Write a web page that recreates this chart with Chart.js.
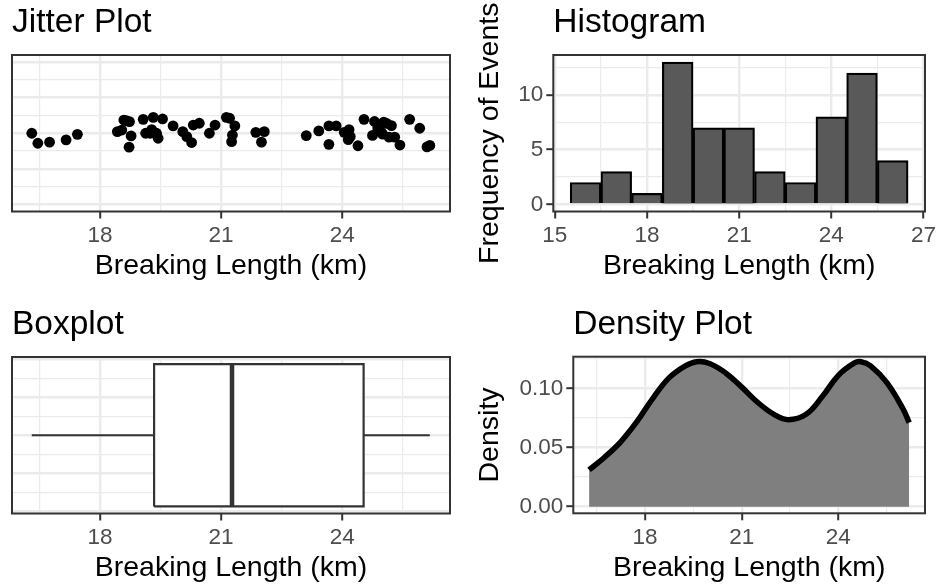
<!DOCTYPE html>
<html>
<head>
<meta charset="utf-8">
<script src="https://cdn.jsdelivr.net/npm/chart.js@4.4.1/dist/chart.umd.min.js"></script>
<style>
  html, body { margin: 0; padding: 0; background: #fff; overflow: hidden; }
  #page { position: relative; width: 937px; height: 588px; overflow: hidden; }
  .cell { position: absolute; width: 469px; height: 294px; }
  .cell canvas { display: block; }
</style>
</head>
<body>
<div id="page">
  <div class="cell" style="left:0;top:0"><canvas id="jitterChart" width="469" height="294"></canvas></div>
  <div class="cell" style="left:468px;top:0"><canvas id="histChart" width="469" height="294"></canvas></div>
  <div class="cell" style="left:0;top:302px"><canvas id="boxChart" width="469" height="294"></canvas></div>
  <div class="cell" style="left:468px;top:302px"><canvas id="densityChart" width="469" height="294"></canvas></div>
</div>
<script>
// ---- data ----
const jitterX = [16.31, 16.46, 16.75, 17.16, 17.44, 18.43, 18.54, 18.59, 18.73, 18.77, 18.72,
  19.07, 19.32, 19.55, 19.13, 19.24, 19.40, 19.44, 19.81, 20.05, 20.15, 20.27, 20.31, 20.46,
  20.71, 20.85, 21.13, 21.21, 21.34, 21.28, 21.26, 21.86, 22.07, 22.00, 23.11, 23.42, 23.67,
  23.85, 23.67, 24.17, 24.20, 24.15, 24.39, 24.54, 24.80, 24.75, 25.03, 25.22, 24.97, 25.16,
  25.30, 25.43, 25.67, 25.92, 26.10, 26.17, 18.65, 19.28, 24.88, 25.10, 25.00, 24.05];
const jitterY = [0.000, -0.056, -0.050, -0.037, -0.006, 0.009, 0.018, 0.074, 0.065, -0.015, -0.078,
  0.078, 0.089, 0.080, 0.000, 0.000, 0.000, -0.028, 0.041, 0.009, -0.019, -0.052, 0.046, 0.056,
  0.000, 0.046, 0.089, 0.084, 0.041, -0.010, -0.047, 0.005, 0.009, -0.050, -0.013, 0.013, 0.041,
  0.041, -0.062, 0.020, -0.019, -0.036, -0.070, 0.078, 0.066, -0.012, 0.062, 0.043, 0.005, -0.022,
  -0.022, -0.066, 0.078, 0.028, -0.076, -0.068, 0.070, 0.020, 0.030, 0.055, -0.005, 0.005];

const histBins = [16, 17, 18, 19, 20, 21, 22, 23, 24, 25, 26];
const histCounts = [2, 3, 1, 13, 7, 7, 3, 2, 8, 12, 4];

// boxplot: min, q1, median, q3, max ; box half-height 0.375
const boxStats = { min: 16.31, q1: 19.34, median: 21.27, q3: 24.53, max: 26.17 };
const boxHalf = 0.375;

const densityX = [16.26, 16.75, 17.25, 17.75, 18.25, 18.75, 19.25, 19.6, 20.0, 20.5, 21.0, 21.5,
  22.0, 22.45, 23.0, 23.5, 24.0, 24.5, 24.7, 25.0, 25.5, 26.0, 26.2];
const densityY = [0.031, 0.042, 0.055, 0.072, 0.092, 0.109, 0.119, 0.1225, 0.121, 0.113, 0.101, 0.088,
  0.078, 0.0735, 0.078, 0.093, 0.111, 0.1215, 0.1225, 0.119, 0.105, 0.083, 0.071];

const kmMajor = [15, 18, 21, 24, 27];
const kmMinor = [16.5, 19.5, 22.5, 25.5];
const histYMajor = [0, 5, 10];
const histYMinor = [2.5, 7.5, 12.5];
const densYMajor = [0, 0.05, 0.10];
const densYMinor = [0.025, 0.075, 0.125];
const flatMajor = [-0.4, -0.2, 0, 0.2, 0.4];
const flatMinor = [-0.3, -0.1, 0.1, 0.3];

// ---- styling ----
const FONT = '"Liberation Sans", Arial, Helvetica, sans-serif';
const GRID = '#EBEBEB';
const INK = '#333333';
const XTITLE = 'Breaking Length (km)';

// frame + panel title, ggplot-ish
const panelPlugin = {
    id: 'panel',
    afterDatasetsDraw(chart, args, opts) {
        const a = chart.chartArea;
        const ctx = chart.ctx;
        ctx.save();
        ctx.strokeStyle = INK;
        ctx.lineWidth = 2;
        ctx.strokeRect(a.left, a.top, a.right - a.left, a.bottom - a.top);
        ctx.restore();
    },
    afterDraw(chart, args, opts) {
        const ctx = chart.ctx;
        ctx.save();
        ctx.font = '33.5px ' + FONT;
        ctx.fillStyle = '#000';
        ctx.textBaseline = 'alphabetic';
        ctx.textAlign = 'left';
        ctx.fillText(opts.title, chart.chartArea.left, 32);
        ctx.restore();
    }
};

function near(v, list) {
    return list.some(m => Math.abs(m - v) < 1e-6);
}

function axis(opts) {
    const major = opts.major, minor = opts.minor;
    const all = major.concat(minor).sort((a, b) => a - b);
    return {
        type: 'linear',
        min: opts.min,
        max: opts.max,
        offset: false,
        afterBuildTicks: s => { s.ticks = all.filter(v => v >= opts.min && v <= opts.max).map(v => ({ value: v })); },
        afterFit: s => {
            if (opts.size !== undefined) {
                if (s.isHorizontal()) s.height = opts.size; else s.width = opts.size;
            }
            s.paddingLeft = 0; s.paddingRight = 0; s.paddingTop = 0; s.paddingBottom = 0;
        },
        grid: {
            offset: false,
            color: GRID,
            lineWidth: c => (c.tick && near(c.tick.value, major)) ? 2.4 : 1.2,
            drawTicks: opts.labels,
            tickLength: 7,
            tickColor: c => (c.tick && near(c.tick.value, major)) ? INK : 'rgba(0,0,0,0)',
            tickWidth: 2
        },
        border: { display: false },
        ticks: {
            display: opts.labels,
            autoSkip: false,
            maxRotation: 0,
            padding: opts.tickPad !== undefined ? opts.tickPad : 3,
            color: '#4D4D4D',
            font: { family: FONT, size: 22.5 },
            callback: v => near(v, major) ? (opts.fmt ? opts.fmt(v) : String(v)) : ''
        },
        title: {
            display: !!opts.title,
            text: opts.title,
            color: '#000',
            font: { family: FONT, size: 28.5 },
            padding: opts.titlePad || 0
        }
    };
}

function baseOptions(title, pad) {
    return {
        responsive: false,
        animation: false,
        events: [],
        layout: { padding: pad },
        plugins: {
            legend: { display: false },
            tooltip: { enabled: false },
            filler: { drawTime: 'beforeDatasetsDraw' },
            panel: { title: title }
        }
    };
}

Chart.register(panelPlugin);

// ---- Jitter Plot ----
const jitterOpts = baseOptions('Jitter Plot', { left: 12, top: 55, right: 19, bottom: 0 });
jitterOpts.scales = {
    x: axis({ min: 15.82, max: 26.67, major: [18, 21, 24], minor: kmMinor, labels: true, size: 82.5, tickPad: 4,
              title: XTITLE, titlePad: { top: 0, bottom: 10.5 } }),
    y: axis({ min: -0.4385, max: 0.4385, major: flatMajor, minor: flatMinor, labels: false, size: 0 })
};
new Chart(document.getElementById('jitterChart'), {
    type: 'scatter',
    data: {
        datasets: [{
            data: jitterX.map((x, i) => ({ x: x, y: jitterY[i] })),
            backgroundColor: '#000',
            borderWidth: 0,
            pointRadius: 5.4
        }]
    },
    options: jitterOpts
});

// ---- Histogram ----
const histOpts = baseOptions('Histogram', { left: 0, top: 55, right: 12, bottom: 0 });
histOpts.scales = {
    x: axis({ min: 14.95, max: 27.05, major: kmMajor, minor: kmMinor, labels: true, size: 82.5, tickPad: 4,
              title: XTITLE, titlePad: { top: 0, bottom: 10.5 } }),
    y: axis({ min: -0.65, max: 13.65, major: histYMajor, minor: histYMinor, labels: true, size: 85.3,
              title: 'Frequency of Events', titlePad: { top: 5, bottom: 0 } })
};
new Chart(document.getElementById('histChart'), {
    type: 'bar',
    data: {
        datasets: [{
            data: histBins.map((b, i) => ({ x: b, y: histCounts[i] })),
            backgroundColor: '#595959',
            borderColor: '#000',
            borderWidth: 2.2,
            barPercentage: 1,
            categoryPercentage: 1
        }]
    },
    options: histOpts
});

// ---- Boxplot ----
const boxOpts = baseOptions('Boxplot', { left: 12, top: 55, right: 19, bottom: 0 });
boxOpts.scales = {
    x: axis({ min: 15.82, max: 26.67, major: [18, 21, 24], minor: kmMinor, labels: true, size: 82.5, tickPad: 4,
              title: XTITLE, titlePad: { top: 0, bottom: 10.5 } }),
    y: axis({ min: -0.4125, max: 0.4125, major: flatMajor, minor: flatMinor, labels: false, size: 0 })
};
const seg = (pts, w, extra) => Object.assign({
    data: pts, showLine: true, pointRadius: 0, borderColor: INK, borderWidth: w, fill: false
}, extra || {});
new Chart(document.getElementById('boxChart'), {
    type: 'scatter',
    data: {
        datasets: [
            // white box body, filled between top and bottom edges
            seg([{ x: boxStats.q1, y: boxHalf }, { x: boxStats.q3, y: boxHalf }], 0,
                { fill: '+1', backgroundColor: '#fff', borderColor: 'rgba(0,0,0,0)' }),
            seg([{ x: boxStats.q1, y: -boxHalf }, { x: boxStats.q3, y: -boxHalf }], 0,
                { borderColor: 'rgba(0,0,0,0)' }),
            seg([{ x: boxStats.min, y: 0 }, { x: boxStats.q1, y: 0 }], 2.2),
            seg([{ x: boxStats.q3, y: 0 }, { x: boxStats.max, y: 0 }], 2.2),
            seg([{ x: boxStats.q1, y: -boxHalf }, { x: boxStats.q3, y: -boxHalf }, { x: boxStats.q3, y: boxHalf },
                 { x: boxStats.q1, y: boxHalf }, { x: boxStats.q1, y: -boxHalf }], 2.2),
            seg([{ x: boxStats.median, y: -boxHalf }, { x: boxStats.median, y: boxHalf }], 4.5)
        ]
    },
    options: boxOpts
});

// ---- Density Plot ----
const densOpts = baseOptions('Density Plot', { left: 0, top: 54.7, right: 12, bottom: 0 });
densOpts.scales = {
    x: axis({ min: 15.77, max: 26.69, major: [18, 21, 24], minor: kmMinor, labels: true, size: 82.7, tickPad: 4,
              title: XTITLE, titlePad: { top: 0, bottom: 10.5 } }),
    y: axis({ min: -0.0056, max: 0.1267, major: densYMajor, minor: densYMinor, labels: true, size: 105.3,
              fmt: v => v.toFixed(2), title: 'Density', titlePad: { top: 5, bottom: 0 } })
};
new Chart(document.getElementById('densityChart'), {
    type: 'scatter',
    data: {
        datasets: [{
            data: densityX.map((x, i) => ({ x: x, y: densityY[i] })),
            showLine: true,
            pointRadius: 0,
            borderColor: '#000',
            borderWidth: 5.5,
            backgroundColor: '#7F7F7F',
            fill: 'origin',
            tension: 0.4
        }]
    },
    options: densOpts
});
</script>
</body>
</html>
